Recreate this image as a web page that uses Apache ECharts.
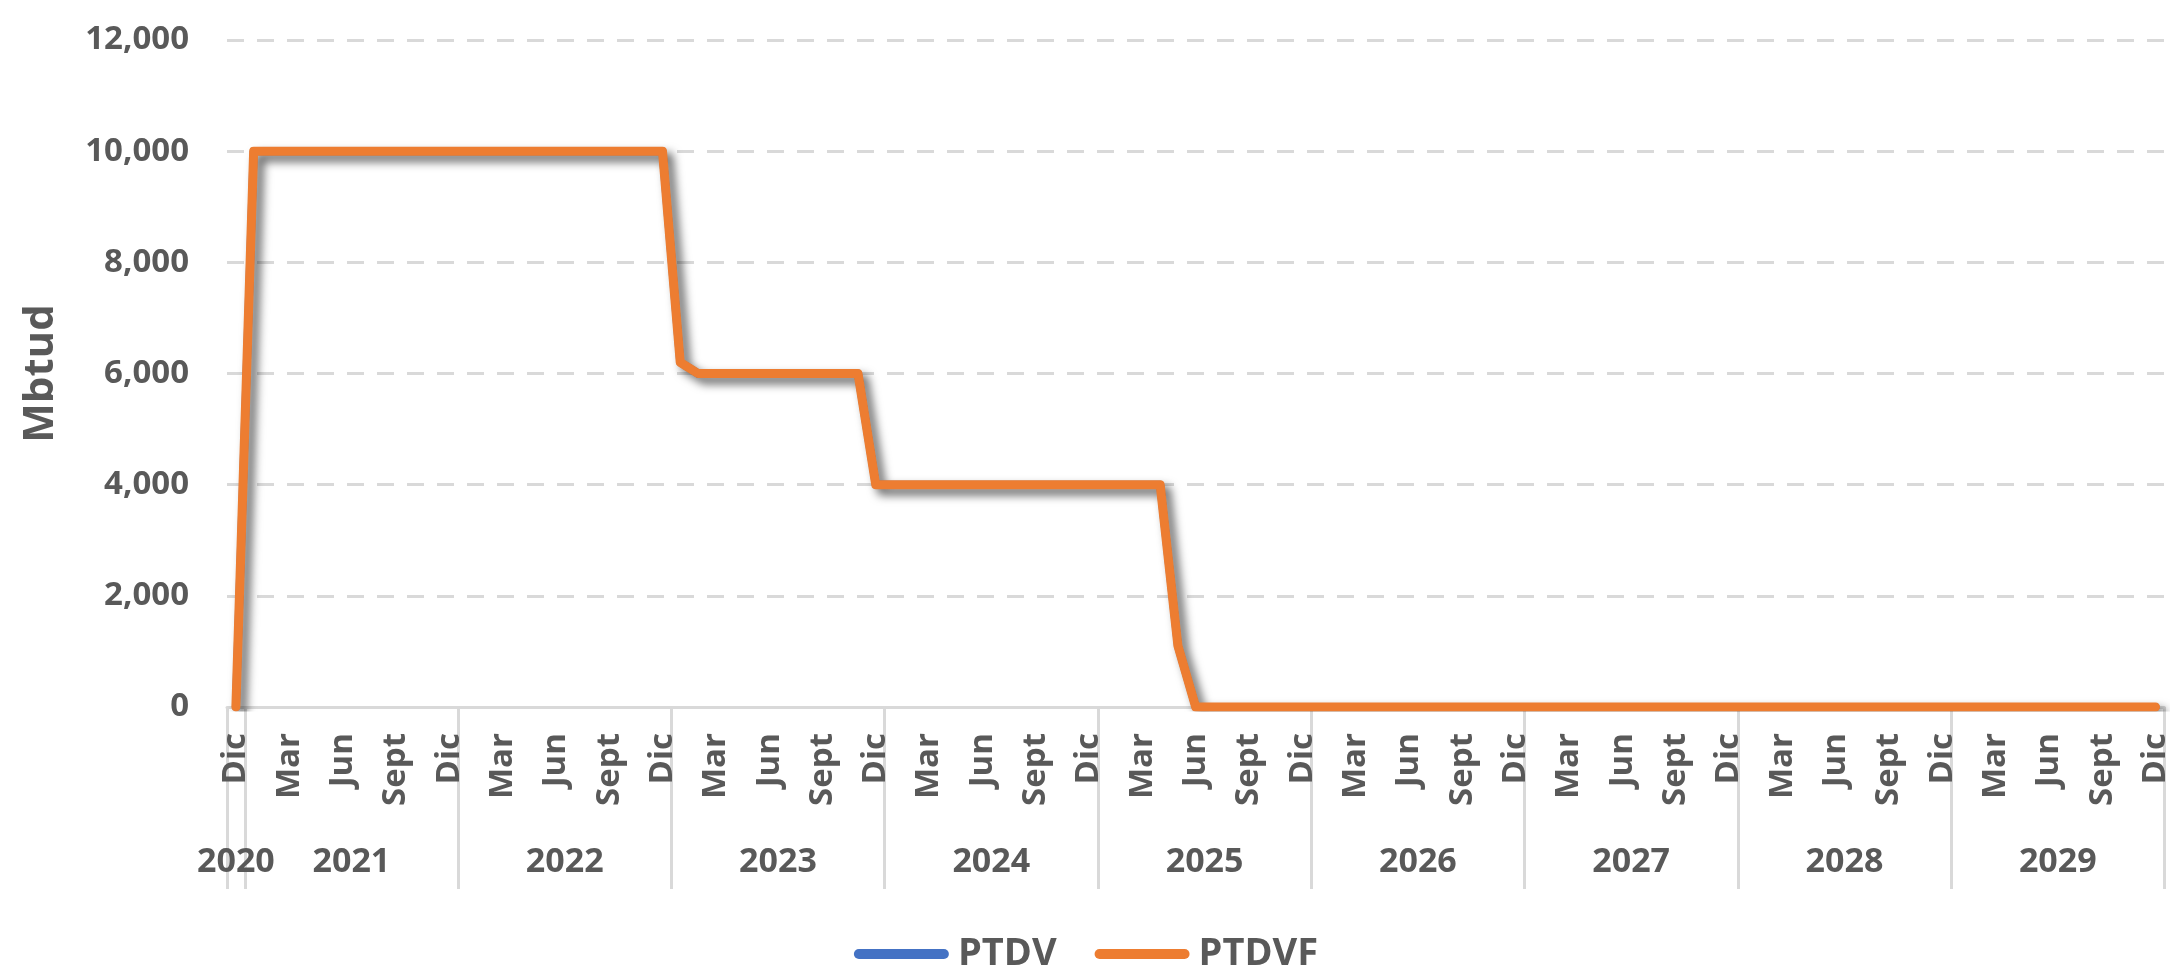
<!DOCTYPE html>
<html>
<head>
<meta charset="utf-8">
<script src="https://cdn.jsdelivr.net/npm/echarts@6/dist/echarts.min.js"></script>
<style>
html,body{margin:0;padding:0;background:#fff;}
#chart{width:2172px;height:970px;}
</style>
</head>
<body>
<div id="chart"></div>
<script>
// ---- data ----
const monthNames = ['Ene','Feb','Mar','Abr','May','Jun','Jul','Ago','Sept','Oct','Nov','Dic'];
const years = ['2020','2021','2022','2023','2024','2025','2026','2027','2028','2029'];
// first category index of each year group (Dic 2020 is the only 2020 month)
const yearStart = [0,1,13,25,37,49,61,73,85,97];
const nCats = 109;
const categories = [];
for (let i = 0; i < nCats; i++) {
  const m = (i + 11) % 12;
  const y = 2020 + Math.floor((i + 11) / 12);
  categories.push(monthNames[m] + ' ' + y);
}
const ptdvf = [
  0,
  10000,10000,10000,10000,10000,10000,10000,10000,10000,10000,10000,10000,
  10000,10000,10000,10000,10000,10000,10000,10000,10000,10000,10000,10000,
  6200,6000,6000,6000,6000,6000,6000,6000,6000,6000,6000,4000,
  4000,4000,4000,4000,4000,4000,4000,4000,4000,4000,4000,4000,
  4000,4000,4000,4000,1100,0,0,0,0,0,0,0,
  0,0,0,0,0,0,0,0,0,0,0,0,
  0,0,0,0,0,0,0,0,0,0,0,0,
  0,0,0,0,0,0,0,0,0,0,0,0,
  0,0,0,0,0,0,0,0,0,0,0,0
];
const ptdv = ptdvf.slice();
const yTicks = {min: 0, max: 12000, interval: 2000};

// ---- derived axis helpers ----
const yearBounds = yearStart.concat([nCats]);
const yearCenters = yearStart.map((s, k) => (s + yearBounds[k + 1]) / 2);

const FONT = "'Open Sans', 'DejaVu Sans', sans-serif";
const TXT = '#595959';

const chart = echarts.init(document.getElementById('chart'), null, {renderer: 'canvas'});
chart.setOption({
  animation: false,
  backgroundColor: '#ffffff',
  grid: {left: 227, right: 4, top: 40, bottom: 263, containLabel: false},
  legend: {
    data: ['PTDV', 'PTDVF'],
    left: 'center',
    top: 930,
    itemWidth: 95,
    itemHeight: 10,
    itemGap: 38,
    icon: 'path://M5,0H90A5,5,0,0,1,90,10H5A5,5,0,0,1,5,0Z',
    textStyle: {fontFamily: FONT, fontSize: 38, fontWeight: 'bold', color: TXT, padding: [0, 0, 0, 4]}
  },
  xAxis: [
    {
      type: 'category',
      data: categories,
      boundaryGap: true,
      axisLine: {show: true, lineStyle: {color: '#d9d9d9', width: 3}},
      axisTick: {show: false},
      splitLine: {show: false},
      axisLabel: {
        interval: function (idx) { return idx % 3 === 0; },
        rotate: 90,
        margin: 26,
        fontFamily: FONT, fontSize: 33, fontWeight: 'bold', color: TXT,
        formatter: function (v) { return v.split(' ')[0]; }
      }
    },
    {
      type: 'value',
      position: 'bottom',
      min: 0, max: nCats,
      axisLine: {show: false},
      splitLine: {show: false},
      axisTick: {show: true, customValues: yearBounds, length: 182, lineStyle: {color: '#d9d9d9', width: 3}},
      axisLabel: {
        customValues: yearCenters,
        margin: 138,
        fontFamily: FONT, fontSize: 34, fontWeight: 'bold', color: TXT,
        formatter: function (v) { const k = yearCenters.indexOf(v); return k >= 0 ? years[k] : ''; }
      }
    }
  ],
  yAxis: {
    type: 'value',
    min: yTicks.min, max: yTicks.max, interval: yTicks.interval,
    name: 'Mbtud',
    nameLocation: 'middle',
    nameRotate: 90,
    nameGap: 165,
    nameTextStyle: {fontFamily: FONT, fontSize: 42, fontWeight: 'bold', color: TXT},
    axisLine: {show: false},
    axisTick: {show: false},
    splitLine: {show: true, lineStyle: {color: '#d9d9d9', width: 3, type: [17, 13]}},
    axisLabel: {
      margin: 38,
      fontFamily: FONT, fontSize: 33, fontWeight: 'bold', color: TXT,
      formatter: function (v) { return v.toLocaleString('en-US'); }
    }
  },
  series: [
    {
      name: 'PTDV', type: 'line', data: ptdv, xAxisIndex: 0,
      color: '#4472C4', showSymbol: false, symbol: 'none', z: 2,
      lineStyle: {color: '#4472C4', width: 8, join: 'round', cap: 'round'}
    },
    {
      name: 'PTDVF', type: 'line', data: ptdvf, xAxisIndex: 0,
      color: '#ED7D31', showSymbol: false, symbol: 'none', z: 3,
      lineStyle: {color: '#ED7D31', width: 9, join: 'round', cap: 'round',
        shadowColor: 'rgba(0,0,0,0.6)', shadowBlur: 10, shadowOffsetX: 6, shadowOffsetY: 6}
    }
  ]
});
</script>
</body>
</html>
